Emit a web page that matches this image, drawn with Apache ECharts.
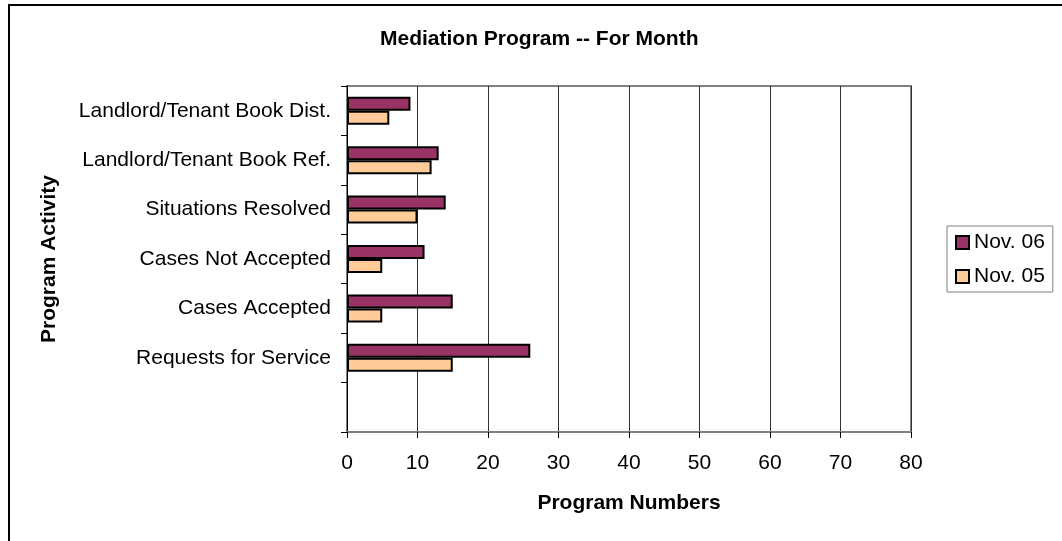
<!DOCTYPE html>
<html>
<head>
<meta charset="utf-8">
<title>Mediation Program -- For Month</title>
<script src="https://cdn.jsdelivr.net/npm/echarts@6/dist/echarts.min.js"></script>
<style>
	html, body { margin: 0; padding: 0; background: #fff; }
	#chart { width: 1062px; height: 541px; }
</style>
</head>
<body>
<div id="chart"></div>
<script>
"use strict";
// 类目，从下往上排，最下面是空的一格
var categories = ['', 'Requests for Service', 'Cases Accepted', 'Cases Not Accepted',
	'Situations Resolved', 'Landlord/Tenant Book Ref.', 'Landlord/Tenant Book Dist.'];
var nov06 = ['-', 26, 15, 11, 14, 13, 9];
var nov05 = ['-', 15, 5, 5, 10, 12, 6];
var seriesNames = ['Nov. 06', 'Nov. 05'];
var xTicks = [0, 10, 20, 30, 40, 50, 60, 70, 80];

var font = '"Liberation Sans", Arial, sans-serif';

var myChart = echarts.init(document.getElementById('chart'));
var option = {
	backgroundColor: '#fff',
	animation: false,
	title: {
		text: 'Mediation Program -- For Month',
		left: 375,
		top: 24,
		textStyle: {
			color: '#000',
			fontFamily: font,
			fontSize: 21,
			fontWeight: 'bold'
		}
	},
	legend: {
		data: seriesNames,
		orient: 'vertical',
		left: 947,
		top: 226,
		padding: [6, 8, 5, 8],
		itemGap: 13,
		itemWidth: 13,
		itemHeight: 13,
		icon: 'rect',
		borderColor: '#808080',
		borderWidth: 1,
		itemStyle: {
			borderColor: '#000',
			borderWidth: 2
		},
		textStyle: {
			color: '#000',
			fontFamily: font,
			fontSize: 21
		}
	},
	grid: {
		left: 347,
		right: 151,
		top: 86,
		bottom: 109,
		show: true,
		borderColor: '#808080',
		borderWidth: 2
	},
	xAxis: {
		type: 'value',
		min: xTicks[0],
		max: xTicks[xTicks.length - 1],
		interval: 10,
		name: 'Program Numbers',
		nameLocation: 'middle',
		nameGap: 61,
		nameTextStyle: {
			color: '#000',
			fontFamily: font,
			fontSize: 21,
			fontWeight: 'bold'
		},
		axisLine: { show: true, lineStyle: { color: '#808080', width: 2 } },
		axisTick: { show: true, length: 6, lineStyle: { color: '#000' } },
		axisLabel: {
			margin: 21,
			color: '#000',
			fontFamily: font,
			fontSize: 21
		},
		splitLine: { show: true, lineStyle: { color: '#333', width: 1 } }
	},
	yAxis: {
		type: 'category',
		data: categories,
		name: 'Program Activity',
		nameLocation: 'middle',
		nameRotate: 90,
		nameGap: 287,
		nameTextStyle: {
			color: '#000',
			fontFamily: font,
			fontSize: 21,
			fontWeight: 'bold'
		},
		axisLine: { show: true, lineStyle: { color: '#000', width: 1 } },
		axisTick: { show: true, length: 6, lineStyle: { color: '#000' } },
		axisLabel: {
			margin: 16,
			color: '#000',
			fontFamily: font,
			fontSize: 21
		},
		splitLine: { show: false }
	},
	// 横向柱图里第一个系列在上面
	series: [
		{
			name: 'Nov. 06',
			type: 'bar',
			data: nov06,
			barWidth: 14,
			barGap: '0%',
			itemStyle: { color: '#993366', borderColor: '#000', borderWidth: 2 }
		},
		{
			name: 'Nov. 05',
			type: 'bar',
			data: nov05,
			barWidth: 14,
			barGap: '0%',
			itemStyle: { color: '#FFCC99', borderColor: '#000', borderWidth: 2 }
		}
	],
	// 外框只有左边和上边
	graphic: [
		{ type: 'line', shape: { x1: 9, y1: 5, x2: 9, y2: 541 }, style: { stroke: '#000', lineWidth: 2 } },
		{ type: 'line', shape: { x1: 8, y1: 5, x2: 1062, y2: 5 }, style: { stroke: '#000', lineWidth: 2 } }
	]
};
myChart.setOption(option);
</script>
</body>
</html>
